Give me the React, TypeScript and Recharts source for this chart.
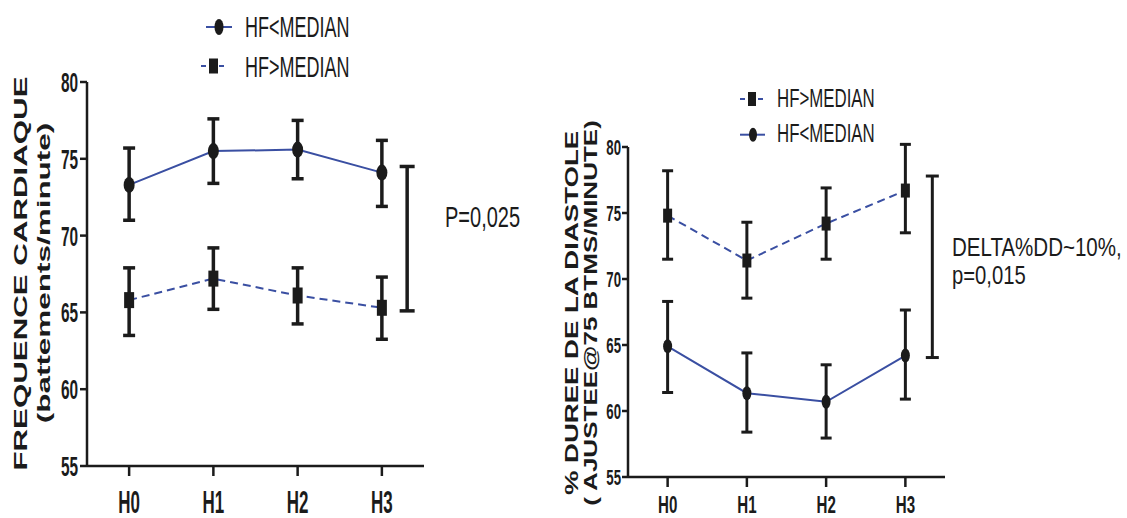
import { ComposedChart, Line, Scatter, XAxis, YAxis, ErrorBar } from 'recharts'

const categories = ['H0', 'H1', 'H2', 'H3']
const yTicks = [55, 60, 65, 70, 75, 80]

// frequence cardiaque (left panel)
const fcLowMean = [73.3, 75.5, 75.6, 74.1]
const fcLowMin = [71.0, 73.4, 73.7, 71.9]
const fcLowMax = [75.7, 77.6, 77.5, 76.2]
const fcHighMean = [65.8, 67.2, 66.1, 65.3]
const fcHighMin = [63.5, 65.2, 64.25, 63.25]
const fcHighMax = [67.9, 69.2, 67.9, 67.3]
const fcBracket = [65.1, 74.5]

// duree de la diastole (right panel)
const ddLowMean = [64.9, 61.35, 60.7, 64.2]
const ddLowMin = [61.4, 58.4, 57.95, 60.9]
const ddLowMax = [68.3, 64.4, 63.5, 67.65]
const ddHighMean = [74.8, 71.4, 74.2, 76.7]
const ddHighMin = [71.5, 68.55, 71.5, 73.5]
const ddHighMax = [78.2, 74.3, 76.9, 80.2]
const ddBracket = [64.05, 77.8]

const FONT = "'Liberation Sans', Arial, sans-serif"
const INK = '#1b1b1b'
const BLUE = '#3a4fa2'

const buildRows = (lm: number[], lmin: number[], lmax: number[], hm: number[], hmin: number[], hmax: number[]) =>
  categories.map((c, i) => ({
    x: i,
    name: c,
    low: lm[i],
    lowErr: [lm[i] - lmin[i], lmax[i] - lm[i]],
    high: hm[i],
    highErr: [hm[i] - hmin[i], hmax[i] - hm[i]],
  }))

const bracketRow = (b: number[], pos: number) => [{ x: pos, y: (b[0] + b[1]) / 2, err: (b[1] - b[0]) / 2 }]

const fcRows = buildRows(fcLowMean, fcLowMin, fcLowMax, fcHighMean, fcHighMin, fcHighMax)
const ddRows = buildRows(ddLowMean, ddLowMin, ddLowMax, ddHighMean, ddHighMin, ddHighMax)

function Txt({ x, y, sx = 1, size, bold = false, anchor = 'start', rotate = false, children }: any) {
  const t = `translate(${x},${y})${rotate ? ' rotate(-90)' : ''} scale(${sx},1)`
  return (
    <text transform={t} textAnchor={anchor} fontFamily={FONT} fontSize={size}
      fontWeight={bold ? 700 : 400} fill={INK}>
      {children}
    </text>
  )
}

const yTick = (size: number, sx: number) => (p: any) => (
  <Txt x={p.x} y={p.y + size * 0.36} sx={sx} size={size} bold anchor="end">{p.payload.value}</Txt>
)
const xTick = (size: number, sx: number, dy: number) => (p: any) => (
  <Txt x={p.x} y={p.y + dy} sx={sx} size={size} bold anchor="middle">{categories[p.payload.value]}</Txt>
)

const circleDot = (rx: number, ry: number) => (p: any) => (
  <ellipse key={p.index} cx={p.cx} cy={p.cy} rx={rx} ry={ry} fill={INK} />
)
const squareDot = (w: number, h: number) => (p: any) => (
  <rect key={p.index} x={p.cx - w / 2} y={p.cy - h / 2} width={w} height={h} fill={INK} />
)

function LegendItem({ x1, x2, y, mx, shape, mw, mh, tx, ty, size, sx, label }: any) {
  return (
    <g>
      <line x1={x1} x2={x2} y1={y} y2={y} stroke={BLUE} strokeWidth={2}
        strokeDasharray={shape === 'square' ? '5 4' : undefined} />
      {shape === 'circle'
        ? <ellipse cx={mx} cy={y} rx={mw / 2} ry={mh / 2} fill={INK} />
        : <rect x={mx - mw / 2} y={y - mh / 2} width={mw} height={mh} fill={INK} />}
      <Txt x={tx} y={ty} size={size} sx={sx}>{label}</Txt>
    </g>
  )
}

const axisStyle = { stroke: INK, strokeWidth: 2.5 }

export default function App() {
  return (
    <div style={{ position: 'absolute', left: 0, top: 0, width: 1127, height: 518, background: '#fff' }}>
      {/* left: frequence cardiaque */}
      <div style={{ position: 'absolute', left: 0, top: 0 }}>
        <ComposedChart width={560} height={518} data={fcRows}
          margin={{ top: 82, right: 136, bottom: 51, left: 86 }}>
          <XAxis dataKey="x" type="number" domain={[-0.5, 3.5]} ticks={[0, 1, 2, 3]} height={1}
            axisLine={axisStyle} tickLine={axisStyle} tickSize={10} tickMargin={2}
            tick={xTick(32, 0.53, 35)} />
          <YAxis type="number" domain={[55, 80]} ticks={yTicks} width={1} allowDataOverflow
            axisLine={axisStyle} tickLine={axisStyle} tickSize={7} tickMargin={2}
            tick={yTick(28, 0.55)} />
          <Line dataKey="low" stroke={BLUE} strokeWidth={2} isAnimationActive={false}
            dot={circleDot(5.5, 8)} activeDot={false}>
            <ErrorBar dataKey="lowErr" direction="y" width={6} stroke={INK} strokeWidth={3.5} />
          </Line>
          <Line dataKey="high" stroke={BLUE} strokeWidth={2} strokeDasharray="8 5" isAnimationActive={false}
            dot={squareDot(10, 16)} activeDot={false}>
            <ErrorBar dataKey="highErr" direction="y" width={6} stroke={INK} strokeWidth={3.5} />
          </Line>
          <Scatter data={bracketRow(fcBracket, 3.3)} dataKey="y" isAnimationActive={false} shape={() => <g />}>
            <ErrorBar dataKey="err" direction="y" width={7.5} stroke={INK} strokeWidth={3.5} />
          </Scatter>

          <LegendItem x1={206} x2={232} y={27} mx={219} shape="circle" mw={9} mh={16}
            tx={245} ty={37} size={30} sx={0.6} label="HF<MEDIAN" />
          <LegendItem x1={201} x2={227} y={66} mx={213.5} shape="square" mw={9} mh={15}
            tx={245} ty={77} size={30} sx={0.6} label="HF>MEDIAN" />

          <Txt x={26.7} y={273.5} size={18.5} sx={1.69} bold anchor="middle" rotate>FREQUENCE CARDIAQUE</Txt>
          <Txt x={50} y={273} size={18.5} sx={1.7} bold anchor="middle" rotate>(battements/minute)</Txt>

          <Txt x={445} y={227} size={30} sx={0.667}>P=0,025</Txt>
        </ComposedChart>
      </div>

      {/* right: duree de la diastole */}
      <div style={{ position: 'absolute', left: 560, top: 0 }}>
        <ComposedChart width={567} height={518} data={ddRows}
          margin={{ top: 147, right: 182, bottom: 40, left: 67 }}>
          <XAxis dataKey="x" type="number" domain={[-0.5, 3.5]} ticks={[0, 1, 2, 3]} height={1}
            axisLine={axisStyle} tickLine={axisStyle} tickSize={10} tickMargin={2}
            tick={xTick(24, 0.63, 24)} />
          <YAxis type="number" domain={[55, 80]} ticks={yTicks} width={1} allowDataOverflow
            axisLine={axisStyle} tickLine={axisStyle} tickSize={6} tickMargin={1}
            tick={yTick(22, 0.6)} />
          <Line dataKey="high" stroke={BLUE} strokeWidth={2} strokeDasharray="8 5" isAnimationActive={false}
            dot={squareDot(9, 14)} activeDot={false}>
            <ErrorBar dataKey="highErr" direction="y" width={5.5} stroke={INK} strokeWidth={3} />
          </Line>
          <Line dataKey="low" stroke={BLUE} strokeWidth={2} isAnimationActive={false}
            dot={circleDot(4.5, 7)} activeDot={false}>
            <ErrorBar dataKey="lowErr" direction="y" width={5.5} stroke={INK} strokeWidth={3} />
          </Line>
          <Scatter data={bracketRow(ddBracket, 3.34)} dataKey="y" isAnimationActive={false} shape={() => <g />}>
            <ErrorBar dataKey="err" direction="y" width={6.5} stroke={INK} strokeWidth={3} />
          </Scatter>

          <LegendItem x1={180} x2={205} y={99} mx={192} shape="square" mw={8} mh={14}
            tx={217} ty={106.7} size={25.5} sx={0.66} label="HF>MEDIAN" />
          <LegendItem x1={180} x2={205} y={134.7} mx={193} shape="circle" mw={8} mh={14}
            tx={217} ty={141.5} size={25.5} sx={0.66} label="HF<MEDIAN" />

          <Txt x={18} y={313} size={19} sx={1.45} bold anchor="middle" rotate>%  DUREE DE LA DIASTOLE</Txt>
          <Txt x={37} y={313} size={19} sx={1.37} bold anchor="middle" rotate>( AJUSTEE@75 BTMS/MINUTE)</Txt>

          <Txt x={392} y={256} size={26} sx={0.79}>DELTA%DD~10%,</Txt>
          <Txt x={392} y={284} size={26} sx={0.78}>p=0,015</Txt>
        </ComposedChart>
      </div>
    </div>
  )
}
